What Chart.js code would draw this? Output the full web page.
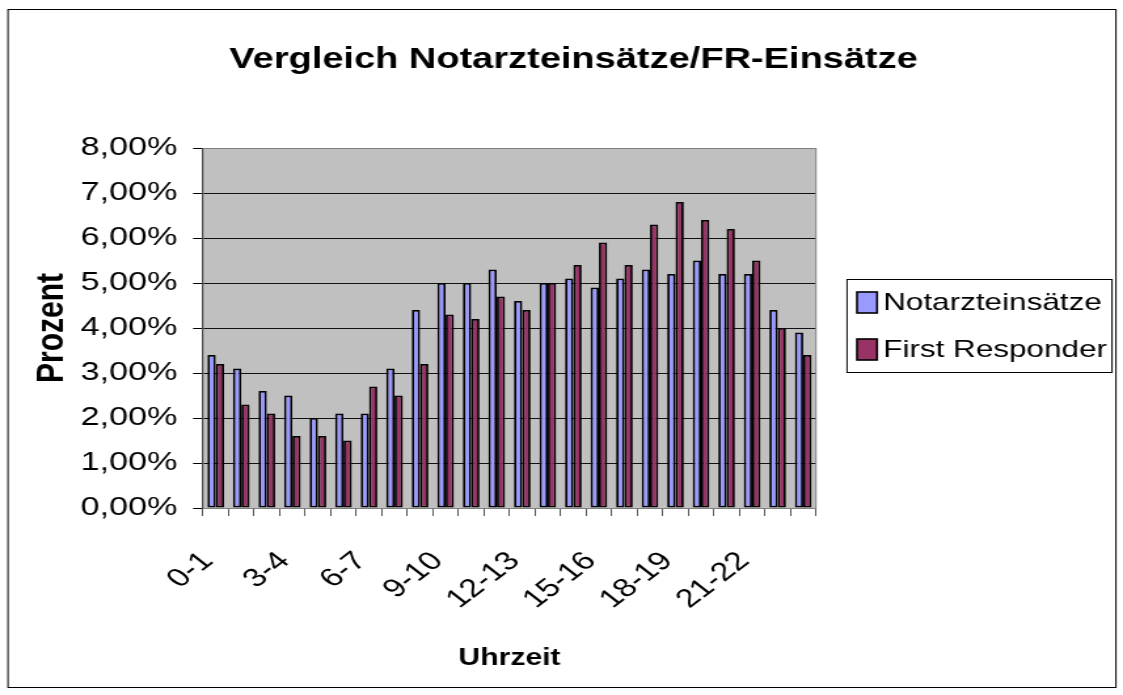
<!DOCTYPE html>
<html>
<head>
<meta charset="utf-8">
<script src="https://cdn.jsdelivr.net/npm/chart.js@4"></script>
<style>
  html, body { margin: 0; padding: 0; background: #fff; }
  #myChart { display: block; }
</style>
</head>
<body>
<!-- the reference text is wide, so the canvas is drawn narrower and widened by css -->
<canvas id="myChart" width="857" height="695" style="width:1123px;height:695px"></canvas>
<script>
// Data
const hours = [
  "0-1", "1-2", "2-3", "3-4", "4-5", "5-6", "6-7", "7-8",
  "8-9", "9-10", "10-11", "11-12", "12-13", "13-14", "14-15", "15-16",
  "16-17", "17-18", "18-19", "19-20", "20-21", "21-22", "22-23", "23-24",
];
const notarzt = [
  3.4, 3.1, 2.6, 2.5, 2.0, 2.1, 2.1, 3.1, 4.4, 5.0, 5.0, 5.3,
  4.6, 5.0, 5.1, 4.9, 5.1, 5.3, 5.2, 5.5, 5.2, 5.2, 4.4, 3.9,
];
const firstResponder = [
  3.2, 2.3, 2.1, 1.6, 1.6, 1.5, 2.7, 2.5, 3.2, 4.3, 4.2, 4.7,
  4.4, 5.0, 5.4, 5.9, 5.4, 6.3, 6.8, 6.4, 6.2, 5.5, 4.0, 3.4,
];
const seriesNames = ["Notarzteinsätze", "First Responder"];
const yTicks = [0, 1, 2, 3, 4, 5, 6, 7, 8];
const chartTitle = "Vergleich Notarzteinsätze/FR-Einsätze";

const FONT = "'Liberation Sans', Arial, sans-serif";

// grey plot area, outer frame, title and the boxed legend
const frame = {
  id: "frame",
  beforeDraw(chart) {
    const ctx = chart.ctx;
    const a = chart.chartArea;
    ctx.save();
    ctx.fillStyle = "#c0c0c0";
    ctx.fillRect(a.left, a.top, a.right - a.left, a.bottom - a.top);
    ctx.restore();
  },
  beforeDatasetsDraw(chart) {
    const ctx = chart.ctx;
    const a = chart.chartArea;
    ctx.save();
    ctx.strokeStyle = "#808080";
    ctx.lineWidth = 1;
    ctx.strokeRect(a.left, a.top + 0.5, a.right - a.left, a.bottom - a.top);
    ctx.restore();
  },
  afterDraw(chart) {
    const ctx = chart.ctx;
    ctx.save();
    ctx.strokeStyle = "#000";
    ctx.lineWidth = 1;
    ctx.strokeRect(6.1, 9.5, 845.5, 678);

    // title, centred over the whole frame
    ctx.fillStyle = "#000";
    ctx.font = "bold 29px " + FONT;
    ctx.textAlign = "center";
    ctx.textBaseline = "middle";
    ctx.fillText(chartTitle, 437.7, 60);

    // legend
    ctx.textAlign = "left";
    ctx.strokeRect(646.4, 279.5, 202.2, 93);
    ctx.font = "24px " + FONT;
    chart.data.datasets.forEach((ds, i) => {
      const y = 302 + i * 47;
      ctx.fillStyle = ds.backgroundColor;
      ctx.fillRect(654, y - 10, 15.3, 21);
      ctx.strokeStyle = "#000";
      ctx.lineWidth = 1.6;
      ctx.strokeRect(654, y - 10, 15.3, 21);
      ctx.fillStyle = "#000";
      ctx.fillText(ds.label, 674, y + 1);
    });
    ctx.restore();
  },
};

const myChart = new Chart(document.getElementById("myChart"), {
  type: "bar",
  data: {
    labels: hours,
    datasets: [
      {
        label: seriesNames[0],
        data: notarzt,
        backgroundColor: "#9999ff",
        borderColor: "#000",
        borderWidth: 1.8,
        borderSkipped: false,
      },
      {
        label: seriesNames[1],
        data: firstResponder,
        backgroundColor: "#993366",
        borderColor: "#000",
        borderWidth: 1.8,
        borderSkipped: false,
      },
    ],
  },
  options: {
    responsive: false,
    animation: false,
    devicePixelRatio: 1,
    layout: { padding: { left: 0, right: 234.3, top: 148, bottom: 0 } },
    datasets: {
      bar: { categoryPercentage: 0.65, barPercentage: 1 },
    },
    plugins: {
      legend: { display: false },
      tooltip: { enabled: false },
      title: { display: false },
    },
    scales: {
      x: {
        afterFit: (scale) => {
          scale.height = 187;
        },
        grid: {
          offset: true,
          drawOnChartArea: false,
          drawTicks: true,
          tickLength: 8,
          tickColor: "#555",
        },
        border: { display: true, color: "#000", width: 1 },
        ticks: {
          autoSkip: false,
          maxRotation: 45,
          minRotation: 45,
          padding: 30,
          labelOffset: -6,
          color: "#000",
          font: { family: FONT, size: 26 },
          callback: (value, index) => (index % 3 === 0 ? hours[index] : ""),
        },
        title: {
          display: true,
          text: "Uhrzeit",
          color: "#000",
          font: { family: FONT, size: 23, weight: "bold" },
          padding: { top: 0, bottom: 23 },
        },
      },
      y: {
        min: 0,
        max: 8,
        afterFit: (scale) => {
          scale.width = 154.9;
        },
        afterBuildTicks: (scale) => {
          scale.ticks = yTicks.map((v) => ({ value: v }));
        },
        grid: {
          color: "#111",
          lineWidth: 1,
          tickLength: 7.6,
          tickColor: "#000",
        },
        border: { display: true, color: "#000", width: 1 },
        ticks: {
          padding: 12,
          color: "#000",
          font: { family: FONT, size: 26 },
          callback: (v) => v.toFixed(2).replace(".", ",") + "%",
        },
        title: {
          display: true,
          text: "Prozent",
          color: "#000",
          font: { family: FONT, size: 30, weight: "bold" },
          padding: { top: 22, bottom: 0 },
        },
      },
    },
  },
  plugins: [frame],
});
</script>
</body>
</html>
